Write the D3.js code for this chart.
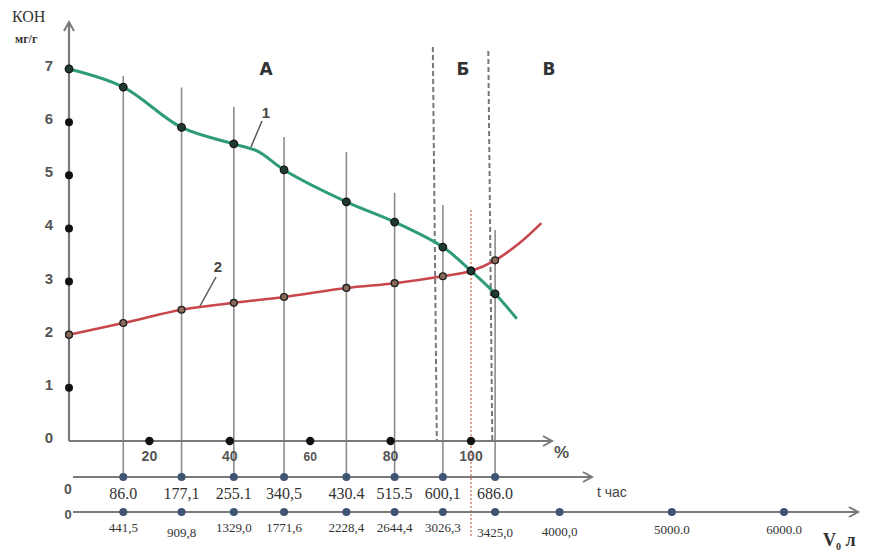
<!DOCTYPE html>
<html>
<head>
<meta charset="utf-8">
<script src="https://cdn.jsdelivr.net/npm/d3@7"></script>
<style>
  body { margin: 0; background: #fff; }
  svg { display: block; }
</style>
</head>
<body>
<div id="chart"></div>
<script>
// KOH, mg/g against percent of life; samples marked by vertical lines
const yTicks = [0, 1, 2, 3, 4, 5, 6, 7];
const pctTicks = [20, 40, 60, 80, 100];
const samplePct = [13.5, 28, 41, 53.5, 69, 81, 93, 106];
const lineTop = [6.87, 6.65, 6.29, 5.72, 5.44, 4.67, 4.44, 3.97];
const tLabels = ["86.0", "177,1", "255.1", "340,5", "430.4", "515.5", "600,1", "686.0"];
const vLabels = ["441,5", "909,8", "1329,0", "1771,6", "2228,4", "2644,4", "3026,3", "3425,0"];
const vExtra = [4000, 5000, 6000];
const vExtraLabels = ["4000,0", "5000.0", "6000.0"];
const curve1 = [[0, 7.0], [13.5, 6.66], [28, 5.9], [41, 5.59], [47, 5.45], [53.5, 5.1], [69, 4.5],
  [81, 4.12], [93, 3.65], [100, 3.2], [106, 2.77], [111.4, 2.3]];
const curve2 = [[0, 2.0], [13.5, 2.22], [28, 2.47], [41, 2.6], [53.5, 2.71], [69, 2.88], [81, 2.97],
  [93, 3.1], [100, 3.2], [106, 3.4], [112, 3.72], [117.5, 4.1]];
const zones = ["А", "Б", "В"];

const width = 892, height = 552;
const x = d3.scaleLinear().domain([0, 100]).range([69, 471]);
const y = d3.scaleLinear().domain([0, 7]).range([441, 69]);
const vx = d3.scaleLinear().domain([3425, 6000]).range([x(106), 784]);

const svg = d3.select("#chart").append("svg")
  .attr("width", width).attr("height", height);

const axisCol = "#7a7a7a";
const tY = 477, vY = 512;

function arrow(x1, y1, dir) {
  const p = dir === "up" ? [[x1 - 5, y1 + 9], [x1, y1], [x1 + 5, y1 + 9]]
                         : [[x1 - 9, y1 - 5], [x1, y1], [x1 - 9, y1 + 5]];
  svg.append("path").attr("d", d3.line()(p))
    .attr("fill", "none").attr("stroke", axisCol).attr("stroke-width", 2);
}

// vertical sample lines
svg.selectAll(".vline").data(samplePct).enter().append("line")
  .attr("x1", d => x(d)).attr("x2", d => x(d))
  .attr("y1", (d, i) => y(lineTop[i])).attr("y2", tY)
  .attr("stroke", "#8c8c8c").attr("stroke-width", 1.6);

// zone boundaries
[91, 104.8].forEach((p, i) => {
  svg.append("line")
    .attr("x1", x(p) - 2).attr("x2", x(p) + 2)
    .attr("y1", 47 + i * 4).attr("y2", 441)
    .attr("stroke", "#777").attr("stroke-width", 2)
    .attr("stroke-dasharray", "5,3");
});
svg.append("line")
  .attr("x1", x(100)).attr("x2", x(100)).attr("y1", 210).attr("y2", 538)
  .attr("stroke", "#d9896a").attr("stroke-width", 1.5).attr("stroke-dasharray", "2,2");

// axes
svg.append("line").attr("x1", 69).attr("x2", 69).attr("y1", 441).attr("y2", 23)
  .attr("stroke", axisCol).attr("stroke-width", 2.2);
arrow(69, 22, "up");
svg.append("line").attr("x1", 69).attr("x2", 552).attr("y1", 441).attr("y2", 441)
  .attr("stroke", axisCol).attr("stroke-width", 2.2);
arrow(552, 441, "right");
svg.append("line").attr("x1", 73).attr("x2", 592).attr("y1", tY).attr("y2", tY)
  .attr("stroke", axisCol).attr("stroke-width", 2.2);
arrow(592, tY, "right");
svg.append("line").attr("x1", 73).attr("x2", 858).attr("y1", vY).attr("y2", vY)
  .attr("stroke", axisCol).attr("stroke-width", 2.2);
arrow(858, vY, "right");

// y ticks
svg.selectAll(".ydot").data(yTicks.filter(d => d > 0)).enter().append("circle")
  .attr("cx", 69).attr("cy", d => y(d)).attr("r", 4).attr("fill", "#111");
svg.selectAll(".ylab").data(yTicks).enter().append("text")
  .attr("x", 49).attr("y", d => y(d) + 2)
  .attr("text-anchor", "middle")
  .attr("font-family", "Liberation Sans, Arial, sans-serif")
  .attr("font-size", 15).attr("font-weight", "bold").attr("fill", "#555")
  .text(d => d);

// percent ticks
svg.selectAll(".pdot").data(pctTicks).enter().append("circle")
  .attr("cx", d => x(d)).attr("cy", 441).attr("r", 4.2).attr("fill", "#111");
svg.selectAll(".plab").data(pctTicks).enter().append("text")
  .attr("x", d => x(d)).attr("y", 461)
  .attr("text-anchor", "middle")
  .attr("font-family", "Liberation Sans, Arial, sans-serif")
  .attr("font-size", d => d === 60 ? 12 : 14).attr("font-weight", "bold").attr("fill", "#555")
  .text(d => d);
svg.append("text").attr("x", 554).attr("y", 458)
  .attr("font-family", "Liberation Sans, Arial, sans-serif")
  .attr("font-size", 17).attr("font-weight", "bold").attr("fill", "#555").text("%");

// t axis
svg.selectAll(".tdot").data(samplePct).enter().append("circle")
  .attr("cx", d => x(d)).attr("cy", tY).attr("r", 4).attr("fill", "#3f5573");
svg.selectAll(".tlab").data(tLabels).enter().append("text")
  .attr("x", (d, i) => x(samplePct[i])).attr("y", 499)
  .attr("text-anchor", "middle")
  .attr("font-family", "Liberation Serif, serif")
  .attr("font-size", 16).attr("fill", "#333")
  .text(d => d);
svg.append("text").attr("x", 68).attr("y", 494).attr("text-anchor", "middle")
  .attr("font-family", "Liberation Sans, sans-serif").attr("font-size", 14)
  .attr("font-weight", "bold").attr("fill", "#555").text("0");
svg.append("text").attr("x", 597).attr("y", 497)
  .attr("font-family", "Liberation Sans, sans-serif").attr("font-size", 14)
  .attr("fill", "#444").text("t час");

// V axis
svg.selectAll(".vdot").data(samplePct).enter().append("circle")
  .attr("cx", d => x(d)).attr("cy", vY).attr("r", 4).attr("fill", "#3f5573");
svg.selectAll(".vdot2").data(vExtra).enter().append("circle")
  .attr("cx", d => vx(d)).attr("cy", vY).attr("r", 4).attr("fill", "#3f5573");
svg.selectAll(".vlab").data(vLabels).enter().append("text")
  .attr("x", (d, i) => x(samplePct[i])).attr("y", (d, i) => i === 1 || i === 7 ? 537 : 532)
  .attr("text-anchor", "middle")
  .attr("font-family", "Liberation Serif, serif")
  .attr("font-size", 13).attr("fill", "#333")
  .text(d => d);
svg.selectAll(".vlab2").data(vExtraLabels).enter().append("text")
  .attr("x", (d, i) => vx(vExtra[i])).attr("y", (d, i) => i === 0 ? 536 : 534)
  .attr("text-anchor", "middle")
  .attr("font-family", "Liberation Serif, serif")
  .attr("font-size", 13).attr("fill", "#333")
  .text(d => d);
svg.append("text").attr("x", 68).attr("y", 519).attr("text-anchor", "middle")
  .attr("font-family", "Liberation Sans, sans-serif").attr("font-size", 13)
  .attr("font-weight", "bold").attr("fill", "#555").text("0");
const vt = svg.append("text").attr("x", 823).attr("y", 546)
  .attr("font-family", "Liberation Serif, serif").attr("font-size", 18)
  .attr("font-weight", "bold").attr("fill", "#333");
vt.append("tspan").text("V");
vt.append("tspan").attr("dy", 4).attr("font-size", 10).text("0");
vt.append("tspan").attr("dy", -4).text(" л");

// y title
svg.append("text").attr("x", 12).attr("y", 22)
  .attr("font-family", "Liberation Serif, serif").attr("font-size", 16)
  .attr("fill", "#333").text("КОН");
svg.append("text").attr("x", 15).attr("y", 43)
  .attr("font-family", "Liberation Serif, serif").attr("font-size", 12)
  .attr("font-weight", "bold").attr("fill", "#333").text("мг/г");

// zone letters
svg.selectAll(".zone").data(zones).enter().append("text")
  .attr("x", (d, i) => [266, 463, 549][i]).attr("y", 75)
  .attr("text-anchor", "middle")
  .attr("font-family", "DejaVu Sans, sans-serif").attr("font-size", 17)
  .attr("font-weight", "bold").attr("fill", "#333")
  .text(d => d);

// curves
const line = d3.line().x(d => x(d[0])).y(d => y(d[1])).curve(d3.curveCatmullRom.alpha(0.5));
svg.append("path").datum(curve2).attr("d", line)
  .attr("fill", "none").attr("stroke", "#c9474c").attr("stroke-width", 2.6);
svg.append("path").datum(curve1).attr("d", line)
  .attr("fill", "none").attr("stroke", "#2e9b7a").attr("stroke-width", 3);

const marked = d => d[0] === 0 || d[0] === 100 || samplePct.includes(d[0]);
svg.selectAll(".m2").data(curve2.filter(marked)).enter().append("circle")
  .attr("cx", d => x(d[0])).attr("cy", d => y(d[1])).attr("r", 3.4)
  .attr("fill", "#8a6a5a").attr("stroke", "#222").attr("stroke-width", 1.4);
svg.selectAll(".m1").data(curve1.filter(marked)).enter().append("circle")
  .attr("cx", d => x(d[0])).attr("cy", d => y(d[1])).attr("r", 3.8)
  .attr("fill", "#1f3a30").attr("stroke", "#111").attr("stroke-width", 1.2);

// curve labels with leaders
svg.append("line").attr("x1", 262).attr("y1", 121).attr("x2", 251).attr("y2", 147)
  .attr("stroke", "#555").attr("stroke-width", 1.5);
svg.append("text").attr("x", 266).attr("y", 118).attr("text-anchor", "middle")
  .attr("font-family", "Liberation Sans, sans-serif").attr("font-size", 15)
  .attr("font-weight", "bold").attr("fill", "#444").text("1");
svg.append("line").attr("x1", 216).attr("y1", 277).attr("x2", 200).attr("y2", 306)
  .attr("stroke", "#555").attr("stroke-width", 1.5);
svg.append("text").attr("x", 218).attr("y", 272).attr("text-anchor", "middle")
  .attr("font-family", "Liberation Sans, sans-serif").attr("font-size", 15)
  .attr("font-weight", "bold").attr("fill", "#444").text("2");
</script>
</body>
</html>
